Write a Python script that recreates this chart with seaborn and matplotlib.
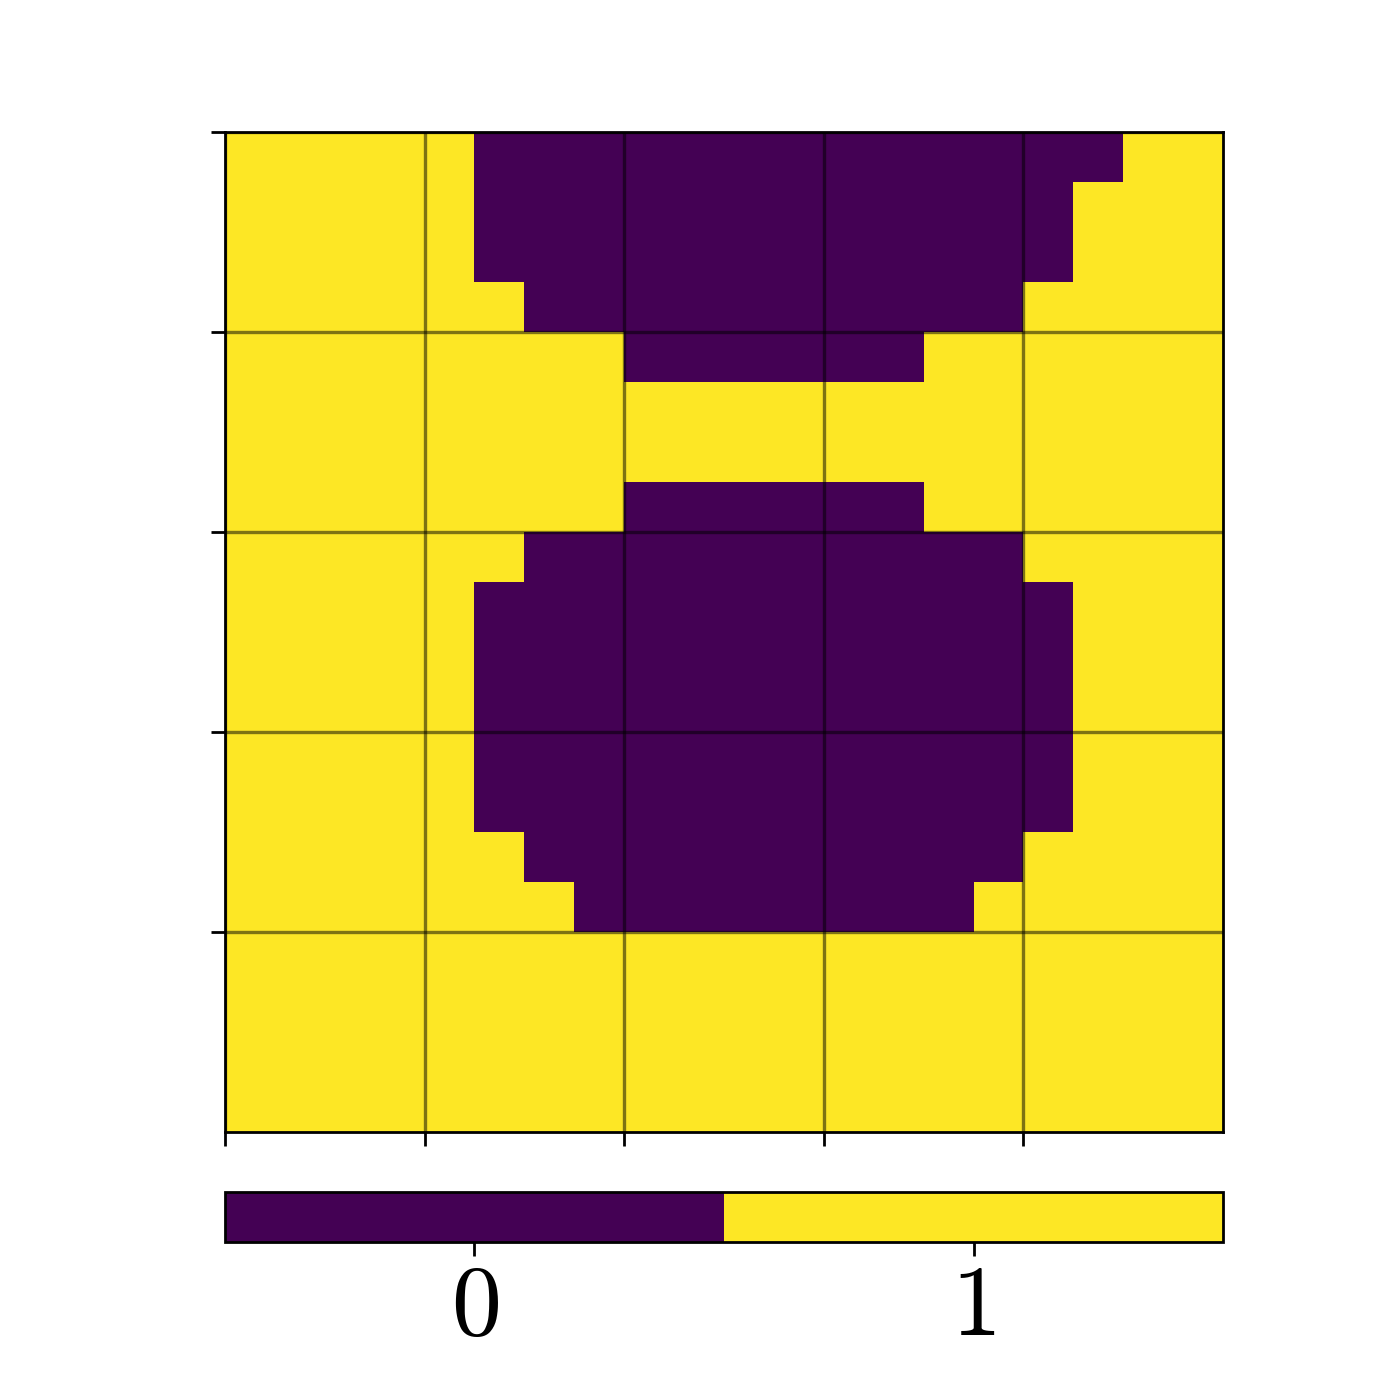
import numpy as np
import matplotlib
matplotlib.use("Agg")
import matplotlib.pyplot as plt
from matplotlib.colors import ListedColormap
import seaborn as sns

# binary mask, one string per row (top to bottom), 1 = yellow, 0 = purple
rows = [
    "11111000000000000011",
    "11111000000000000111",
    "11111000000000000111",
    "11111100000000001111",
    "11111111000000111111",
    "11111111111111111111",
    "11111111111111111111",
    "11111111000000111111",
    "11111100000000001111",
    "11111000000000000111",
    "11111000000000000111",
    "11111000000000000111",
    "11111000000000000111",
    "11111000000000000111",
    "11111100000000001111",
    "11111110000000011111",
    "11111111111111111111",
    "11111111111111111111",
    "11111111111111111111",
    "11111111111111111111",
]
grid_ticks = [0, 4, 8, 12, 16]
cbar_ticks = [0, 1]
cbar_labels = ["$0$", "$1$"]

mask = np.array([[int(c) for c in r] for r in rows])

plt.rcParams["mathtext.fontset"] = "cm"

vir = plt.get_cmap("viridis")
cmap = ListedColormap([vir(0.0), vir(1.0)])

fig = plt.figure(figsize=(7, 7), dpi=200)
ax = fig.add_axes([0.1607, 0.1914, 0.7129, 0.7143])
cax = fig.add_axes([0.1607, 0.1129, 0.7129, 0.0357])

sns.heatmap(mask, ax=ax, cmap=cmap, vmin=-0.5, vmax=1.5, cbar_ax=cax,
            cbar_kws={"orientation": "horizontal", "ticks": cbar_ticks},
            xticklabels=False, yticklabels=False, square=False)

ax.set_xticks(grid_ticks)
ax.set_yticks(grid_ticks)
ax.set_xticklabels([])
ax.set_yticklabels([])
ax.tick_params(length=5, width=1.0, color="black")
ax.set_axisbelow(False)
ax.grid(True, color="black", alpha=0.5, linewidth=1.2)
for s in ax.spines.values():
    s.set_visible(True)
    s.set_linewidth(1.0)
    s.set_color("black")

cb = ax.collections[0].colorbar
cb.set_ticks(cbar_ticks)
cb.set_ticklabels(cbar_labels)
cb.outline.set_visible(True)
cb.outline.set_linewidth(1.0)
cb.outline.set_edgecolor("black")
cax.tick_params(length=5, width=1.0, labelsize=36, pad=1)

fig.savefig("out.png", dpi=200)
